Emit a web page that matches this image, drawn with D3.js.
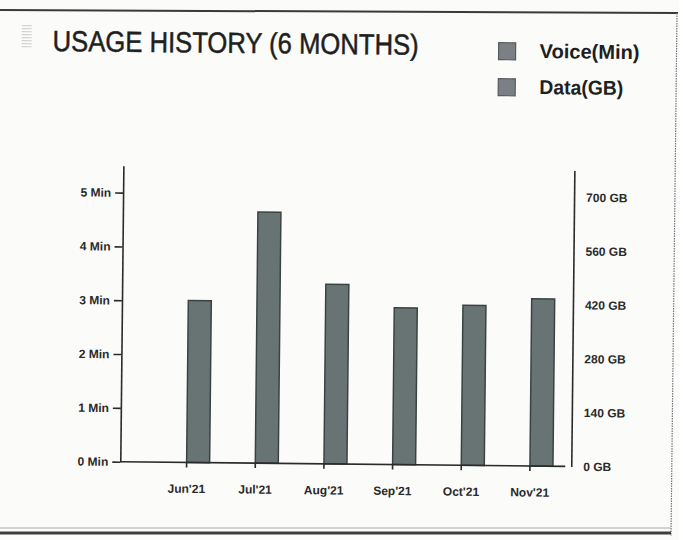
<!DOCTYPE html>
<html>
<head>
<meta charset="utf-8">
<script src="https://cdn.jsdelivr.net/npm/d3@7"></script>
<style>
  body { margin: 0; background: #fff; }
  svg { display: block; }
</style>
</head>
<body>
<div id="chart"></div>
<script>
// values
var months = ["Jun'21", "Jul'21", "Aug'21", "Sep'21", "Oct'21", "Nov'21"];
var seriesNames = ["Voice(Min)", "Data(GB)"];
var voiceMin = [0, 0, 0, 0, 0, 0];
var dataGB = [421, 653, 467, 408, 416, 435];
var minTicks = [0, 1, 2, 3, 4, 5];
var gbTicks = [0, 140, 280, 420, 560, 700];

var width = 683, height = 540;
var font = "'Liberation Sans', Arial, Helvetica, sans-serif";

var plotLeft = 122, plotRight = 573;
var plotTop = 168, plotBottom = 464;

var barColor = "#687474";
var barEdge = "#3a4343";

var svg = d3.select("#chart").append("svg")
    .attr("width", width)
    .attr("height", height);

svg.append("rect")
    .attr("width", width).attr("height", height)
    .attr("fill", "#fbfbfa");

// page frame of the scanned sheet
svg.append("line")
    .attr("x1", 0).attr("y1", 10).attr("x2", 678).attr("y2", 13)
    .attr("stroke", "#3a3a3a").attr("stroke-width", 2);
svg.append("line")
    .attr("x1", 677).attr("y1", 13).attr("x2", 671).attr("y2", 536)
    .attr("stroke", "#777").attr("stroke-width", 1.2)
    .attr("stroke-dasharray", "1.5,1");
svg.append("line")
    .attr("x1", 0).attr("y1", 528).attr("x2", 671).attr("y2", 528)
    .attr("stroke", "#aaa").attr("stroke-width", 1);
svg.append("line")
    .attr("x1", 0).attr("y1", 533).attr("x2", 671).attr("y2", 533)
    .attr("stroke", "#3c3c3c").attr("stroke-width", 3);
svg.append("rect")
    .attr("x", 679).attr("y", 0).attr("width", 4).attr("height", height)
    .attr("fill", "#fff");

// the whole sheet is scanned a little crooked
var page = svg.append("g")
    .attr("transform", "rotate(0.6, 341, 300)");

// little striped icon next to the title
var icon = page.append("g").attr("transform", "translate(19,29)");
d3.range(8).forEach(function(i) {
    icon.append("line")
        .attr("x1", 0).attr("x2", 10)
        .attr("y1", i * 3).attr("y2", i * 3)
        .attr("stroke", "#cfcfcf").attr("stroke-width", 1.2);
});

page.append("text")
    .attr("x", 50).attr("y", 54)
    .attr("font-family", font)
    .attr("font-size", 29)
    .attr("fill", "#1f1f1f")
    .attr("stroke", "#1f1f1f")
    .attr("stroke-width", 0.5)
    .attr("textLength", 366)
    .attr("lengthAdjust", "spacingAndGlyphs")
    .text("USAGE HISTORY (6 MONTHS)");

// legend
var legend = page.selectAll(".legend")
    .data(seriesNames)
    .enter()
    .append("g")
    .attr("class", "legend")
    .attr("transform", function(d, i) { return "translate(496," + (41 + i * 36) + ")"; });

legend.append("rect")
    .attr("width", 17).attr("height", 17)
    .attr("fill", "#7b8084")
    .attr("stroke", "#555a5e")
    .attr("stroke-width", 1.2);

legend.append("text")
    .attr("x", 41).attr("y", 15)
    .attr("font-family", font)
    .attr("font-size", 20)
    .attr("font-weight", "bold")
    .attr("fill", "#1f1f1f")
    .attr("textLength", function(d, i) { return i == 0 ? 100 : 84; })
    .attr("lengthAdjust", "spacingAndGlyphs")
    .text(function(d) { return d; });

// scales
var x = d3.scaleBand()
    .domain(months)
    .range([154, 566])
    .padding(0);

var xInner = d3.scaleBand()
    .domain(seriesNames)
    .range([-23, 23]);

var yMin = d3.scaleLinear()
    .domain([0, 5.5])
    .range([plotBottom, plotTop]);

var yGB = d3.scaleLinear()
    .domain([0, 770])
    .range([plotBottom, plotTop]);

var rows = months.map(function(m, i) {
    return { month: m, values: [
        { series: seriesNames[0], y: yMin(voiceMin[i]) },
        { series: seriesNames[1], y: yGB(dataGB[i]) }
    ]};
});

// bars
var groups = page.selectAll(".month")
    .data(rows)
    .enter()
    .append("g")
    .attr("class", "month")
    .attr("transform", function(d) { return "translate(" + (x(d.month) + x.bandwidth() / 2) + ",0)"; });

groups.selectAll("rect")
    .data(function(d) { return d.values; })
    .enter()
    .append("rect")
    .attr("x", function(d) { return xInner(d.series); })
    .attr("width", xInner.bandwidth())
    .attr("y", function(d) { return d.y; })
    .attr("height", function(d) { return plotBottom - d.y; })
    .attr("fill", barColor)
    .attr("stroke", barEdge)
    .attr("stroke-width", 1.5);

// axes
var leftAxis = page.append("g")
    .attr("transform", "translate(" + plotLeft + ",0)")
    .call(d3.axisLeft(yMin)
        .tickValues(minTicks)
        .tickFormat(function(d) { return d + " Min"; })
        .tickSize(8)
        .tickSizeOuter(0)
        .tickPadding(4));

var rightAxis = page.append("g")
    .attr("transform", "translate(" + plotRight + ",0)")
    .call(d3.axisRight(yGB)
        .tickValues(gbTicks)
        .tickFormat(function(d) { return d + " GB"; })
        .tickSize(0)
        .tickSizeOuter(0)
        .tickPadding(12));

var bottomAxis = page.append("g")
    .attr("transform", "translate(0," + plotBottom + ")")
    .call(d3.axisBottom(x)
        .tickSize(5)
        .tickSizeOuter(0)
        .tickPadding(17));
bottomAxis.select(".domain").remove();

page.append("line")
    .attr("x1", plotLeft).attr("x2", 567)
    .attr("y1", plotBottom).attr("y2", plotBottom)
    .attr("stroke", "#2b2b2b").attr("stroke-width", 1.6);

page.selectAll(".tick text")
    .attr("font-family", font)
    .attr("font-size", 12)
    .attr("font-weight", "bold")
    .attr("fill", "#2a2a2a");

page.selectAll(".domain, .tick line")
    .attr("stroke", "#2b2b2b")
    .attr("stroke-width", 1.6);
</script>
</body>
</html>
